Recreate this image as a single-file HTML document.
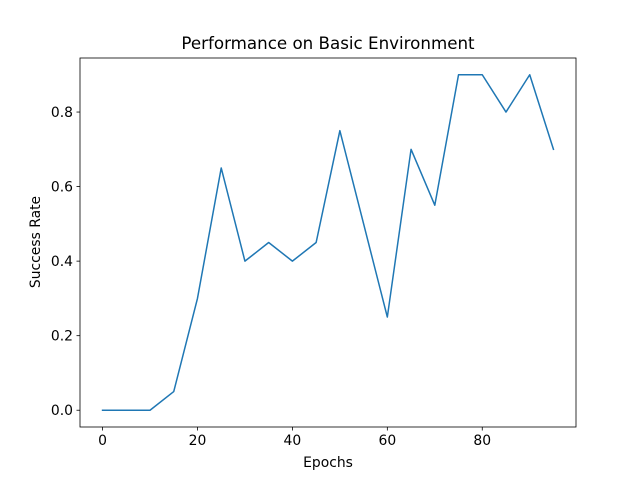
<!DOCTYPE html>
<html><head><meta charset="utf-8"><style>
body{margin:0;background:#fff;}
text{font-family:"DejaVu Sans","Liberation Sans",sans-serif;fill:#000;}
</style></head><body>
<svg id="chart" width="640" height="480" viewBox="0 0 640 480" xmlns="http://www.w3.org/2000/svg">
<rect width="640" height="480" fill="#fff"/>
<text x="328" y="49" font-size="16.7" text-anchor="middle">Performance on Basic Environment</text>
<g id="axes"></g>
<text x="328" y="467" font-size="13.9" text-anchor="middle">Epochs</text>
<text transform="translate(40,242) rotate(-90)" font-size="13.9" text-anchor="middle">Success Rate</text>
</svg>
<script>
const epochs=[0,5,10,15,20,25,30,35,40,45,50,55,60,65,70,75,80,85,90,95];
const successRate=[0,0,0,0.05,0.3,0.65,0.4,0.45,0.4,0.45,0.75,0.5,0.25,0.7,0.55,0.9,0.9,0.8,0.9,0.7];
const xTicks=[0,20,40,60,80];
const yTicks=[0.0,0.2,0.4,0.6,0.8];
const L=80,R=576,T=58,B=427;
const x0=-4.75,x1=99.75,y0=-0.045,y1=0.945;
const sx=v=>L+(v-x0)/(x1-x0)*(R-L);
const sy=v=>B-(v-y0)/(y1-y0)*(B-T);
const NS="http://www.w3.org/2000/svg";
const g=document.getElementById('axes');
function mk(t,a){const e=document.createElementNS(NS,t);for(const k in a)e.setAttribute(k,a[k]);g.appendChild(e);return e;}
let d=epochs.map((v,i)=>(i?'L':'M')+sx(v).toFixed(2)+','+sy(successRate[i]).toFixed(2)).join(' ');
const line=mk('path',{d:d,fill:'none',stroke:'#1f77b4','stroke-width':1.5,'stroke-linejoin':'round','stroke-linecap':'square'});


const frame=mk('rect',{x:L,y:T,width:R-L,height:B-T,fill:'none',stroke:'#000','stroke-width':0.8});


xTicks.forEach(v=>{
  const tk=mk('line',{x1:sx(v),x2:sx(v),y1:B,y2:B+3.5,stroke:'#000','stroke-width':0.8});
  
  
  const t=mk('text',{x:sx(v),y:B+18,'font-size':13.9,'text-anchor':'middle'});
  t.textContent=v;
  
  
});
yTicks.forEach(v=>{
  const tk=mk('line',{x1:L-3.5,x2:L,y1:sy(v),y2:sy(v),stroke:'#000','stroke-width':0.8});
  
  
  const t=mk('text',{x:L-7,y:sy(v)+5,'font-size':13.9,'text-anchor':'end'});
  t.textContent=v.toFixed(1);
  
  
});
</script>
</body></html>
